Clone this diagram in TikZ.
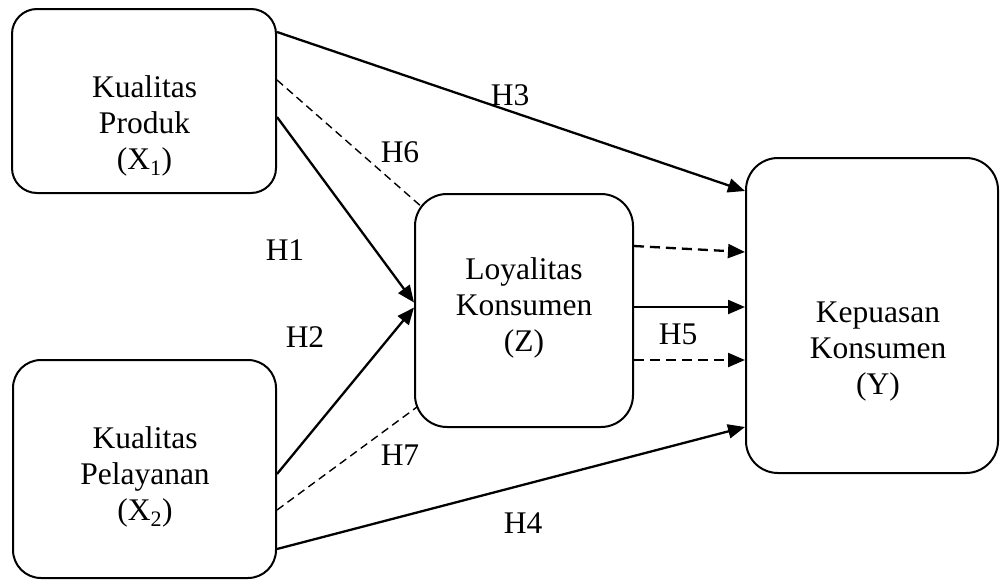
\documentclass[tikz,border=0pt]{standalone}
\usepackage{fontspec}
\setmainfont{Liberation Serif}
\usetikzlibrary{arrows.meta}
\begin{document}
\begin{tikzpicture}[x=1pt,y=-1pt,
  box/.style={draw,line width=2pt,rounded corners=#1,inner sep=0pt},
  box/.default=28pt,
  txt/.style={align=center,inner sep=0pt,font=\fontsize{31.5}{36}\selectfont},
  lbl/.style={inner sep=0pt,font=\fontsize{31.5}{36}\selectfont},
  arr/.style={line width=2.3pt,-{Triangle[length=17pt,width=14pt]}},
  dsh/.style={line width=1.4pt,dash pattern=on 8pt off 5pt},
  darr/.style={arr,dash pattern=on 10pt off 6pt}]
\useasboundingbox (0,0) rectangle (1003,581);
% boxes
\node[box=25pt,minimum width=264pt,minimum height=184pt] (x1) at (144,101) {};
\node[box=28pt,minimum width=263pt,minimum height=218pt] (x2) at (144.5,469) {};
\node[box=32pt,minimum width=218pt,minimum height=233pt] (z) at (524,310.5) {};
\node[box=32pt,minimum width=252pt,minimum height=315pt] (y) at (872,315.5) {};
% box texts
\node[txt] (x1t) at (144.5,126) {Kualitas\\Produk\\(X\textsubscript{1})};
\node[txt] (x2t) at (145,477) {Kualitas\\Pelayanan\\(X\textsubscript{2})};
\node[txt] (zt) at (524,307.5) {Loyalitas\\Konsumen\\(Z)};
\node[txt] (yt) at (878,351.5) {Kepuasan\\Konsumen\\(Y)};
% connectors
\draw[arr] ([yshift=69pt]x1.east) -- ([yshift=124.5pt]y.west);
\draw[dsh] ([yshift=21pt]x1.east) -- ([xshift=9pt,yshift=-15pt]z.north west);
\draw[arr] ([yshift=-16pt]x1.east) -- ([yshift=8pt]z.west);
\draw[arr] ([yshift=-5pt]x2.east) -- ([yshift=3pt]z.west);
\draw[dsh] ([yshift=-41pt]x2.east) -- ([xshift=3pt,yshift=21pt]z.south west);
\draw[arr] ([yshift=-80pt]x2.east) -- ([yshift=-111.5pt]y.west);
\draw[darr] ([yshift=64.5pt]z.east) -- ([yshift=63.5pt]y.west);
\draw[arr] ([yshift=3.5pt]z.east) -- ([yshift=8.5pt]y.west);
\draw[darr] ([yshift=-49.5pt]z.east) -- ([yshift=-44.5pt]y.west);
% labels
\node[lbl] (h3) at (510,95) {H3};
\node[lbl] (h6) at (400,152) {H6};
\node[lbl] (h1) at (285,250) {H1};
\node[lbl] (h2) at (305,337) {H2};
\node[lbl] (h5) at (678,334) {H5};
\node[lbl] (h7) at (400,455) {H7};
\node[lbl] (h4) at (523,523) {H4};
\end{tikzpicture}
\end{document}
